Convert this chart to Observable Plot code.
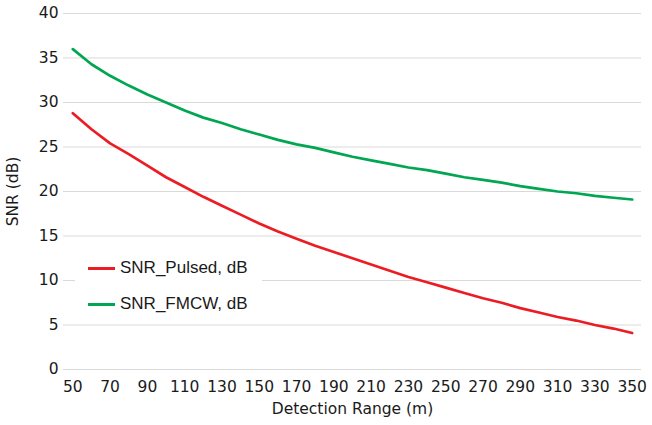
<!DOCTYPE html>
<html>
<head>
<meta charset="utf-8">
<script src="https://cdn.jsdelivr.net/npm/d3@7"></script>
<script src="https://cdn.jsdelivr.net/npm/@observablehq/plot@0.6"></script>
<style>
  html, body { margin: 0; padding: 0; background: #fff; }
  #wrap { position: relative; width: 652px; height: 425px; }
  #legend {
    position: absolute; left: 75px; top: 252px; width: 187px; height: 64px;
    background: #fff; font-family: "Liberation Sans", Arial, sans-serif; font-size: 17px; color: #1a1a1a;
  }
  .row { position: absolute; left: 13px; display: flex; align-items: center; height: 20px; }
  .sw { width: 27px; height: 3px; margin-right: 5px; }
</style>
</head>
<body>
<div id="wrap"><div id="legend"></div></div>
<script>
const rangeM = [50, 60, 70, 80, 90, 100, 110, 120, 130, 140, 150, 160, 170, 180, 190, 200, 210, 220, 230, 240, 250, 260, 270, 280, 290, 300, 310, 320, 330, 340, 350];
const snrPulsed = [28.8, 27.0, 25.4, 24.2, 22.9, 21.6, 20.5, 19.4, 18.4, 17.4, 16.4, 15.5, 14.7, 13.9, 13.2, 12.5, 11.8, 11.1, 10.4, 9.8, 9.2, 8.6, 8.0, 7.5, 6.9, 6.4, 5.9, 5.5, 5.0, 4.6, 4.1];
const snrFMCW = [36.0, 34.3, 33.0, 31.9, 30.9, 30.0, 29.1, 28.3, 27.7, 27.0, 26.4, 25.8, 25.3, 24.9, 24.4, 23.9, 23.5, 23.1, 22.7, 22.4, 22.0, 21.6, 21.3, 21.0, 20.6, 20.3, 20.0, 19.8, 19.5, 19.3, 19.1];
const xTicks = [50, 70, 90, 110, 130, 150, 170, 190, 210, 230, 250, 270, 290, 310, 330, 350];
const yTicks = [0, 5, 10, 15, 20, 25, 30, 35, 40];
const seriesNames = ["SNR_Pulsed, dB", "SNR_FMCW, dB"];
const seriesColors = ["#ec1c24", "#00a651"];

const rows = [];
rangeM.forEach((r, i) => {
  rows.push({range: r, snr: snrPulsed[i], series: seriesNames[0]});
  rows.push({range: r, snr: snrFMCW[i], series: seriesNames[1]});
});

const chart = Plot.plot({
  width: 652,
  height: 425,
  marginLeft: 63,
  marginRight: 11,
  marginTop: 13,
  marginBottom: 56,
  style: {fontFamily: "DejaVu Sans, sans-serif", fontSize: "15px", color: "#1a1a1a", background: "#fff"},
  x: {domain: [45, 355]},
  y: {domain: [0, 40]},
  color: {domain: seriesNames, range: seriesColors},
  marks: [
    Plot.gridY(yTicks, {stroke: "#d9d9d9", strokeOpacity: 1, strokeWidth: 1.2}),
    Plot.axisY(yTicks, {tickSize: 0, tickPadding: 5, fontSize: 15.5, label: "SNR (dB)", labelAnchor: "center", labelArrow: "none", labelOffset: 57}),
    Plot.axisX(xTicks, {tickSize: 0, tickPadding: 11, fontSize: 15.5, label: "Detection Range (m)", labelAnchor: "center", labelArrow: "none", labelOffset: 44}),
    Plot.line(rows, {x: "range", y: "snr", z: "series", stroke: "series", strokeWidth: 2.7})
  ]
});
document.getElementById("wrap").prepend(chart);

const legend = d3.select("#legend");
seriesNames.forEach((name, i) => {
  const row = legend.append("div").attr("class", "row").style("top", (i === 0 ? 6 : 42) + "px");
  row.append("div").attr("class", "sw").style("background", seriesColors[i]);
  row.append("span").text(name);
});
</script>
</body>
</html>
